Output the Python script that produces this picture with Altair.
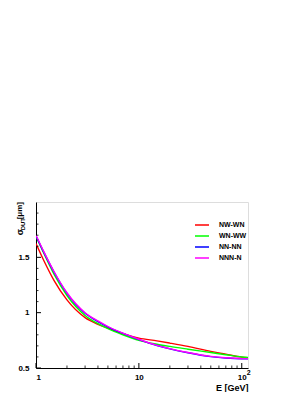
import altair as alt
import pandas as pd

# ---- data ----
energy = [1, 1.2, 1.5, 2, 3, 4, 5, 7, 10, 15, 20, 30, 50, 70, 100, 115]
nw_wn = [1.625, 1.465, 1.29, 1.115, 0.955, 0.895, 0.86, 0.81, 0.77, 0.745, 0.725, 0.695, 0.65, 0.625, 0.598, 0.592]
wn_ww = [1.69, 1.53, 1.345, 1.155, 0.975, 0.90, 0.855, 0.80, 0.75, 0.715, 0.695, 0.67, 0.64, 0.62, 0.60, 0.595]
nn_nn = [1.695, 1.54, 1.365, 1.175, 0.995, 0.92, 0.872, 0.812, 0.757, 0.703, 0.673, 0.638, 0.603, 0.59, 0.584, 0.584]
nnn_n = [1.70, 1.545, 1.37, 1.18, 1.00, 0.925, 0.875, 0.815, 0.76, 0.705, 0.675, 0.64, 0.605, 0.592, 0.585, 0.585]

series_names = ["NW-WN", "WN-WW", "NN-NN", "NNN-N"]
series_colors = ["#ff0000", "#00ff00", "#0000ff", "#ff00ff"]

x_major = [1, 10, 100]
x_minor = [2, 3, 4, 5, 6, 7, 8, 9, 20, 30, 40, 50, 60, 70, 80, 90]
y_major = [0.5, 1.0, 1.5]
y_minor = [0.6, 0.7, 0.8, 0.9, 1.1, 1.2, 1.3, 1.4, 1.6, 1.7, 1.8, 1.9]
x_exponent_at = [100]
x_exponent = ["2"]

rows = []
for name, vals in zip(series_names, [nw_wn, wn_ww, nn_nn, nnn_n]):
    for e, v in zip(energy, vals):
        rows.append({"E": e, "sigma": v, "series": name, "order": series_names.index(name)})
df = pd.DataFrame(rows)

W, H = 212, 166
FONT = "Liberation Sans"

xscale = alt.Scale(type="log", domain=[1, 115], nice=False)
yscale = alt.Scale(domain=[0.5, 2.0], nice=False, zero=False)

xaxis = alt.Axis(values=x_major, ticks=False, grid=False, labelFont=FONT,
                 labelFontWeight="bold", labelFontSize=8, labelPadding=5,
                 labelExpr="datum.value == 100 ? '10' : datum.label",
                 title="E [GeV]", titleFont=FONT, titleFontWeight="bold",
                 titleFontSize=9, titleAnchor="end", titlePadding=2,
                 domainColor="black", labelColor="black", titleColor="black")
yaxis = alt.Axis(values=y_major, ticks=False, grid=False, labelFont=FONT,
                 labelFontWeight="bold", labelFontSize=8, labelPadding=7,
                 format="~g", title=None, domainColor="black", labelColor="black")

lines = alt.Chart(df).mark_line(strokeWidth=1.4, interpolate="monotone", clip=True).encode(
    x=alt.X("E:Q", scale=xscale, axis=xaxis),
    y=alt.Y("sigma:Q", scale=yscale, axis=yaxis),
    color=alt.Color("series:N", scale=alt.Scale(domain=series_names, range=series_colors),
                    legend=alt.Legend(title=None, orient="none", legendX=158, legendY=15,
                                      symbolType="stroke", symbolSize=196, symbolStrokeWidth=1.5,
                                      labelFont=FONT, labelFontWeight="bold", labelFontSize=7,
                                      labelOffset=9, rowPadding=-3, labelColor="black")),
    order=alt.Order("order:Q"),
)

xmaj = alt.Chart(pd.DataFrame({"E": x_major})).mark_rule(color="black", strokeWidth=1).encode(
    x=alt.X("E:Q", scale=xscale, axis=xaxis), y=alt.value(H), y2=alt.value(H - 5))
xmin = alt.Chart(pd.DataFrame({"E": x_minor})).mark_rule(color="black", strokeWidth=0.8).encode(
    x=alt.X("E:Q", scale=xscale, axis=xaxis), y=alt.value(H), y2=alt.value(H - 2.5))
ymaj = alt.Chart(pd.DataFrame({"sigma": y_major})).mark_rule(color="black", strokeWidth=1).encode(
    y=alt.Y("sigma:Q", scale=yscale, axis=yaxis), x=alt.value(0), x2=alt.value(5))
ymin = alt.Chart(pd.DataFrame({"sigma": y_minor})).mark_rule(color="black", strokeWidth=0.8).encode(
    y=alt.Y("sigma:Q", scale=yscale, axis=yaxis), x=alt.value(0), x2=alt.value(2.5))

xexp = alt.Chart(pd.DataFrame({"E": x_exponent_at, "t": x_exponent})).mark_text(
    align="left", baseline="middle", font=FONT, fontSize=7, fontWeight="bold", color="black", dx=5
).encode(x=alt.X("E:Q", scale=xscale, axis=xaxis), y=alt.value(H + 5), text="t:N")

ytitle_sigma = alt.Chart(pd.DataFrame({"t": ["σ"]})).mark_text(
    angle=270, align="right", baseline="middle", font=FONT, fontSize=9, fontWeight="bold", color="black"
).encode(text="t:N", x=alt.value(-16), y=alt.value(27))
ytitle_dut = alt.Chart(pd.DataFrame({"t": ["DUT"]})).mark_text(
    angle=270, align="right", baseline="middle", font=FONT, fontSize=6, fontWeight="bold", color="black"
).encode(text="t:N", x=alt.value(-13.5), y=alt.value(16))
ytitle_unit = alt.Chart(pd.DataFrame({"t": ["[μm]"]})).mark_text(
    angle=270, align="right", baseline="middle", font=FONT, fontSize=8, fontWeight="bold", color="black"
).encode(text="t:N", x=alt.value(-16), y=alt.value(0))

chart = alt.layer(lines, xmaj, xmin, ymaj, ymin, xexp, ytitle_sigma, ytitle_dut, ytitle_unit).properties(
    width=W, height=H,
    autosize=alt.AutoSizeParams(type="none"),
    padding={"left": 28, "top": 194, "right": 50, "bottom": 24},
).configure_view(stroke="black", strokeWidth=1).configure(background="white")

chart.save("out.html", embed_options={"renderer": "svg", "actions": False})
